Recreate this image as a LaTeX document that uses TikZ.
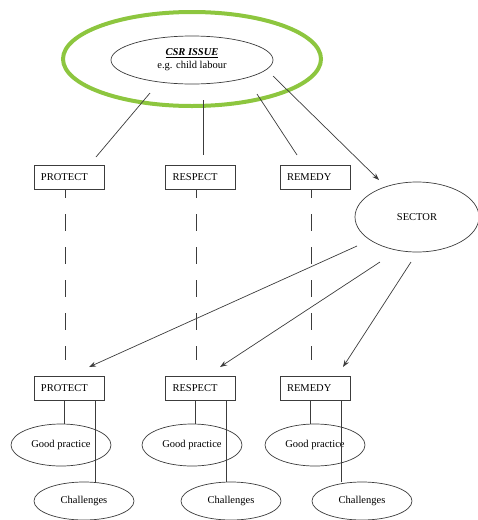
\documentclass[tikz,border=0pt]{standalone}
\usepackage{fontspec}
\setmainfont{Liberation Serif}
\usetikzlibrary{shapes.geometric,arrows.meta}
\definecolor{csrgreen}{RGB}{141,198,63}
\definecolor{ink}{RGB}{60,60,60}
\begin{document}
\begin{tikzpicture}[x=1pt,y=-1pt,
 line/.style={draw=ink, line width=0.7pt},
 txt/.style={font=\fontsize{10.5}{13}\selectfont},
 box/.style={line, txt, rectangle, minimum width=70pt, minimum height=24pt, inner sep=0pt, text width=56pt, align=left},
 ell/.style={line, txt, ellipse, inner sep=0pt, align=center},
 gp/.style={ell, minimum width=100pt, minimum height=42pt},
 ch/.style={ell, minimum width=100pt, minimum height=38pt},
 arr/.style={line, -{Stealth[length=7pt,width=5pt]}},
 dsh/.style={line, dash pattern=on 17pt off 16pt, dash phase=8pt}]
\useasboundingbox (0,0) rectangle (478,520);

% top issue
\node[ellipse, draw=csrgreen, line width=4pt, minimum width=258pt, minimum height=94pt, inner sep=0pt] (outer) at (192,59) {};
\node[ell, minimum width=162pt, minimum height=48pt] (issue) at (192,60) {\underline{\textbf{\textit{CSR ISSUE}}}\\e.g. child labour};

% first row boxes
\node[box] (p1) at (69,177) {PROTECT};
\node[box] (r1) at (200.5,177) {RESPECT};
\node[box] (m1) at (315,177) {REMEDY};

% sector
\node[ell, minimum width=124pt, minimum height=70pt] (sector) at (417,217) {SECTOR};

% second row boxes
\node[box] (p2) at (69,388) {PROTECT};
\node[box] (r2) at (200.5,388) {RESPECT};
\node[box] (m2) at (315,388) {REMEDY};

% good practice / challenges
\node[gp] (g1) at (61,445) {Good practice};
\node[gp] (g2) at (192,445) {Good practice};
\node[gp] (g3) at (315,445) {Good practice};
\node[ch] (c1) at (84,501) {Challenges};
\node[ch] (c2) at (231,501) {Challenges};
\node[ch] (c3) at (362,501) {Challenges};

% free ends
\coordinate (t1) at (150,93);  \coordinate (t1e) at (96,157);
\coordinate (t2) at (203,100); \coordinate (t2e) at (203,155);
\coordinate (t3) at (257,94);  \coordinate (t3e) at (297,155);
\coordinate (a0) at (273,76);  \coordinate (a0e) at (379,180);
\coordinate (s1) at (357,246); \coordinate (s1e) at (89,367);
\coordinate (s2) at (380,262); \coordinate (s2e) at (220,367);
\coordinate (s3) at (411,262); \coordinate (s3e) at (343,367);
\coordinate (d1) at (65,360);
\coordinate (d2) at (196,360);
\coordinate (d3) at (311,360);

% connectors from issue
\draw[line] (t1) -- (t1e);
\draw[line] (t2) -- (t2e);
\draw[line] (t3) -- (t3e);
\draw[arr] (a0) -- (a0e);

% dashed lines
\draw[dsh] (d1 |- p1.south) -- (d1);
\draw[dsh] (d2 |- r1.south) -- (d2);
\draw[dsh] (d3 |- m1.south) -- (d3);

% sector arrows
\draw[arr] (s1) -- (s1e);
\draw[arr] (s2) -- (s2e);
\draw[arr] (s3) -- (s3e);

% box to ellipses
\draw[line] ([xshift=31pt]p2.south west) -- ([xshift=31pt]p2.south west |- g1.north);
\draw[line] ([xshift=62pt]p2.south west) -- ([xshift=62pt]p2.south west |- c1.north);
\draw[line] ([xshift=30pt]r2.south west) -- ([xshift=30pt]r2.south west |- g2.north);
\draw[line] ([xshift=61pt]r2.south west) -- ([xshift=61pt]r2.south west |- c2.north);
\draw[line] ([xshift=31pt]m2.south west) -- ([xshift=31pt]m2.south west |- g3.north);
\draw[line] ([xshift=62pt]m2.south west) -- ([xshift=62pt]m2.south west |- c3.north);
\end{tikzpicture}
\end{document}
